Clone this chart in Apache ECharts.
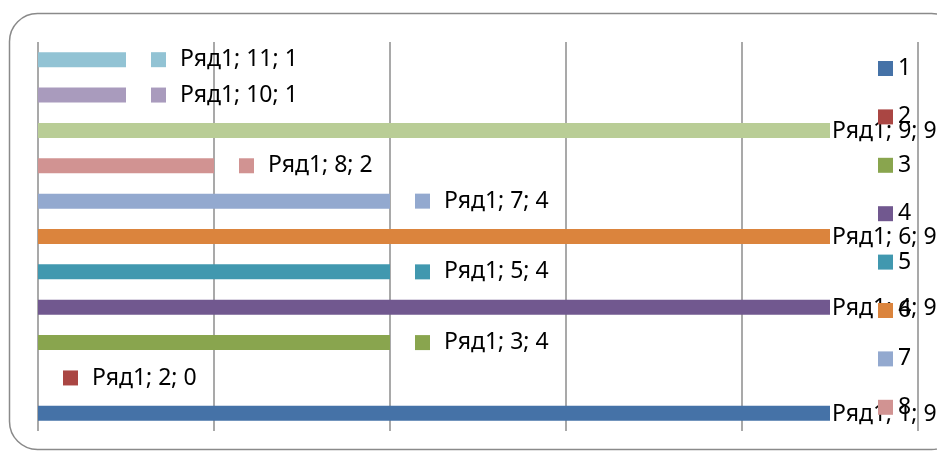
<!DOCTYPE html>
<html>
<head>
<meta charset="utf-8">
<script src="https://cdn.jsdelivr.net/npm/echarts@6/dist/echarts.min.js"></script>
<style>
  html, body { margin: 0; padding: 0; background: #fff; }
  #main { width: 937px; height: 453px; }
</style>
</head>
<body>
<div id="main"></div>
<script>
var seriesName = 'Ряд1';
var categories = ['1', '2', '3', '4', '5', '6', '7', '8', '9', '10', '11'];
var values = [9, 0, 4, 9, 4, 9, 4, 2, 9, 1, 1];
var colors = ['#4572A7', '#AA4643', '#89A54E', '#71588F', '#4198AF', '#DB843D',
              '#93A9CF', '#D19392', '#B9CD96', '#A99BBD', '#92C3D4'];
// the legend in the picture is cut off after the 8th entry
var legendShown = categories.slice(0, 8);

var dom = document.getElementById('main');
var myChart = echarts.init(dom, null, { renderer: 'canvas' });

var FONT = '"Noto Sans", sans-serif';
var FS = 23;

// one series per category so the legend lists categories, overlapped with barGap -100%
var series = categories.map(function (cat, i) {
  var full = values[i] >= 9; // labels of the long bars sit right at the bar end, no key
  return {
    name: cat,
    type: 'bar',
    barWidth: 15,
    barGap: '-100%',
    itemStyle: { color: colors[i] },
    data: categories.map(function (c, j) { return j === i ? values[i] : null; }),
    label: {
      show: true,
      position: 'right',
      distance: full ? 2 : 25,
      color: '#000',
      fontFamily: FONT,
      fontSize: FS,
      formatter: function () {
        var txt = seriesName + '; ' + cat + '; ' + values[i];
        return full ? '{t|' + txt + '}' : '{sq|}{t|' + txt + '}';
      },
      rich: {
        sq: { width: 15, height: 15, backgroundColor: colors[i] },
        t: { fontFamily: FONT, fontSize: FS, color: '#000', padding: full ? [2, 0, 0, 0] : [0, 0, 0, 14] }
      }
    }
  };
});

var option = {
  animation: false,
  backgroundColor: '#fff',
  graphic: [{
    type: 'rect',
    shape: { x: 9.5, y: 13.5, width: 950, height: 436, r: 28 },
    style: { fill: 'none', stroke: '#8a8a8a', lineWidth: 1.5 },
    z: -1
  }],
  legend: {
    orient: 'vertical',
    left: 873,
    top: 52,
    height: 800,
    itemWidth: 15,
    itemHeight: 15,
    itemGap: 25.4,
    icon: 'rect',
    textStyle: { fontFamily: FONT, fontSize: FS, color: '#000' },
    data: legendShown
  },
  grid: { left: 38, right: 19, top: 42, bottom: 22, containLabel: false },
  xAxis: {
    type: 'value',
    min: 0,
    max: 10,
    interval: 2,
    axisLabel: { show: false },
    axisLine: { show: false },
    axisTick: { show: false },
    splitLine: { show: true, lineStyle: { color: '#8c8c8c', width: 1.5 } }
  },
  yAxis: {
    type: 'category',
    data: categories,
    axisLabel: { show: false },
    axisLine: { show: false },
    axisTick: { show: false }
  },
  series: series
};

myChart.setOption(option);
window.addEventListener('resize', myChart.resize);
</script>
</body>
</html>
